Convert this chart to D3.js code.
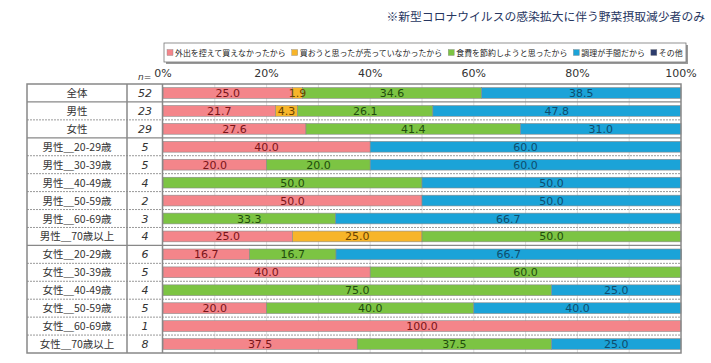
<!DOCTYPE html>
<html>
<head>
<meta charset="utf-8">
<script src="https://cdn.jsdelivr.net/npm/d3@7"></script>
<style>
  body { margin: 0; background: #fff; }
  svg text { font-family: "DejaVu Sans", "Noto Sans CJK JP", sans-serif; }
  .jp { font-family: "Noto Sans CJK JP", sans-serif; }
</style>
</head>
<body>
<svg id="chart" width="711" height="363"></svg>
<script>
// data
const rowLabels = ["全体", "男性", "女性",
  "男性＿20-29歳", "男性＿30-39歳", "男性＿40-49歳", "男性＿50-59歳", "男性＿60-69歳", "男性＿70歳以上",
  "女性＿20-29歳", "女性＿30-39歳", "女性＿40-49歳", "女性＿50-59歳", "女性＿60-69歳", "女性＿70歳以上"];
const nValues = [52, 23, 29, 5, 5, 4, 2, 3, 4, 6, 5, 4, 5, 1, 8];
const reasons = ["外出を控えて買えなかったから", "買おうと思ったが売っていなかったから", "食費を節約しようと思ったから", "調理が手間だから", "その他"];
const outside = [25.0, 21.7, 27.6, 40.0, 20.0, 0, 50.0, 0, 25.0, 16.7, 40.0, 0, 20.0, 100.0, 37.5];
const soldOut = [1.9, 4.3, 0, 0, 0, 0, 0, 0, 25.0, 0, 0, 0, 0, 0, 0];
const saving = [34.6, 26.1, 41.4, 0, 20.0, 50.0, 0, 33.3, 50.0, 16.7, 60.0, 75.0, 40.0, 0, 37.5];
const cooking = [38.5, 47.8, 31.0, 60.0, 60.0, 50.0, 50.0, 66.7, 0, 66.7, 0, 25.0, 40.0, 0, 25.0];
const other = [0, 0, 0, 0, 0, 0, 0, 0, 0, 0, 0, 0, 0, 0, 0];
const tickLabels = ["0%", "20%", "40%", "60%", "80%", "100%"];
const groupEnds = [0, 2, 8]; // solid separators after these rows

const fills = ["#f4858a", "#f7b52a", "#7cc443", "#1ba3d8", "#2c3c6c"];
const textCols = ["#7a1418", "#6a4300", "#214d0c", "#0e4d6e", "#fff"];

const svg = d3.select("#chart");
const plotL = 163, plotR = 681, plotT = 84, plotB = 353;
const tableL = 27, nL = 127;

const x = d3.scaleLinear().domain([0, 100]).range([plotL, plotR]);
const y = d3.scaleBand().domain(rowLabels).range([plotT, plotB])
  .paddingInner(0.4).paddingOuter(0.2);
const step = y.step();

const series = [outside, soldOut, saving, cooking, other];
const tableRows = rowLabels.map((r, i) => {
  const o = { label: r, n: nValues[i] };
  reasons.forEach((k, j) => o[k] = series[j][i]);
  return o;
});
const stacked = d3.stack().keys(reasons)(tableRows);

// note
svg.append("text").attr("class", "jp")
  .attr("x", 705).attr("y", 21)
  .attr("text-anchor", "end")
  .style("font-size", "11.8px").style("fill", "#27365f")
  .text("※新型コロナウイルスの感染拡大に伴う野菜摂取減少者のみ");

// legend
const legW = 522, legH = 19, legGap = 6;
const lg = svg.append("g").attr("transform", "translate(164,43)");
lg.append("rect").attr("x", 2).attr("y", 2).attr("width", legW).attr("height", legH)
  .attr("fill", "#999");
lg.append("rect").attr("x", 0).attr("y", 0).attr("width", legW).attr("height", legH)
  .attr("fill", "#fff").attr("stroke", "#777").attr("stroke-width", 0.8);
const items = lg.selectAll("g.item").data(reasons).join("g").attr("class", "item");
items.append("rect").attr("x", 0).attr("y", 6.5).attr("width", 6).attr("height", 6)
  .attr("fill", (d, i) => fills[i]).attr("stroke", "#888").attr("stroke-width", 0.4);
const legTexts = items.append("text").attr("class", "jp").attr("x", 8).attr("y", 13.2)
  .style("font-size", "10px").style("fill", "#222").text(d => d);
// shrink the font until the row fits the box
const textW = () => d3.sum(legTexts.nodes(), n => n.getComputedTextLength());
const room = legW - 6 - reasons.length * 8 - legGap * (reasons.length - 1);
const fs = 10 * Math.min(1, room / textW());
legTexts.style("font-size", fs + "px");
let lx = 3;
items.each(function (d, i) {
  d3.select(this).attr("transform", `translate(${lx},0)`);
  lx += 8 + legTexts.nodes()[i].getComputedTextLength() + legGap;
});

// axis labels
svg.append("g").selectAll("text").data(tickLabels).join("text")
  .attr("x", (d, i) => x(i * 20)).attr("y", 77)
  .attr("text-anchor", "middle")
  .style("font-size", "11px").style("fill", "#333")
  .text(d => d);
svg.append("text").attr("x", 138).attr("y", 80)
  .style("font-size", "9px").style("font-style", "italic").style("fill", "#333")
  .text("n=");

// grid
svg.append("g").selectAll("line").data(d3.range(10, 100, 10)).join("line")
  .attr("x1", d => x(d)).attr("x2", d => x(d))
  .attr("y1", plotT).attr("y2", plotB)
  .attr("stroke", "#dcdcdc").attr("stroke-width", 1);

// bars
const layer = svg.append("g").selectAll("g").data(stacked).join("g")
  .attr("fill", (d, i) => fills[i]);
layer.selectAll("rect").data(d => d.filter(p => p[1] - p[0] > 0)).join("rect")
  .attr("x", d => x(d[0]))
  .attr("y", d => y(d.data.label))
  .attr("width", d => x(d[1]) - x(d[0]))
  .attr("height", y.bandwidth())
  .attr("stroke", "#8a8a8a").attr("stroke-width", 0.6);

stacked.forEach((s, i) => {
  svg.append("g").selectAll("text").data(s.filter(p => p[1] - p[0] > 0)).join("text")
    .attr("x", d => x((d[0] + d[1]) / 2))
    .attr("y", d => y(d.data.label) + y.bandwidth() / 2 + 4)
    .attr("text-anchor", "middle")
    .style("font-size", "11px").style("fill", textCols[i])
    .text(d => (d[1] - d[0]).toFixed(1));
});

// row separators
rowLabels.slice(0, -1).forEach((r, i) => {
  const yy = y(r) + y.bandwidth() + step * 0.2;
  const solid = groupEnds.includes(i);
  if (solid) {
    svg.append("line").attr("x1", tableL).attr("x2", plotR)
      .attr("y1", yy).attr("y2", yy)
      .attr("stroke", "#888").attr("stroke-width", 1.2);
  } else {
    svg.append("line").attr("x1", tableL).attr("x2", plotR)
      .attr("y1", yy).attr("y2", yy)
      .attr("stroke", "#999").attr("stroke-width", 1)
      .attr("stroke-dasharray", "2,1");
  }
});

// table text
svg.append("g").selectAll("text").data(tableRows).join("text")
  .attr("class", "jp")
  .attr("x", (tableL + nL) / 2)
  .attr("y", d => y(d.label) + y.bandwidth() / 2 + 4)
  .attr("text-anchor", "middle")
  .style("font-size", "10.5px").style("fill", "#333")
  .text(d => d.label);
svg.append("g").selectAll("text").data(tableRows).join("text")
  .attr("x", (nL + plotL) / 2)
  .attr("y", d => y(d.label) + y.bandwidth() / 2 + 4)
  .attr("text-anchor", "middle")
  .style("font-size", "11px").style("font-style", "italic").style("fill", "#333")
  .text(d => d.n);

// borders
svg.append("rect").attr("x", tableL).attr("y", plotT)
  .attr("width", plotR - tableL).attr("height", plotB - plotT)
  .attr("fill", "none").attr("stroke", "#888").attr("stroke-width", 1.5);
[nL, plotL - 0.5].forEach(xx => {
  svg.append("line").attr("x1", xx).attr("x2", xx).attr("y1", plotT).attr("y2", plotB)
    .attr("stroke", "#888").attr("stroke-width", 1.5);
});
</script>
</body>
</html>
